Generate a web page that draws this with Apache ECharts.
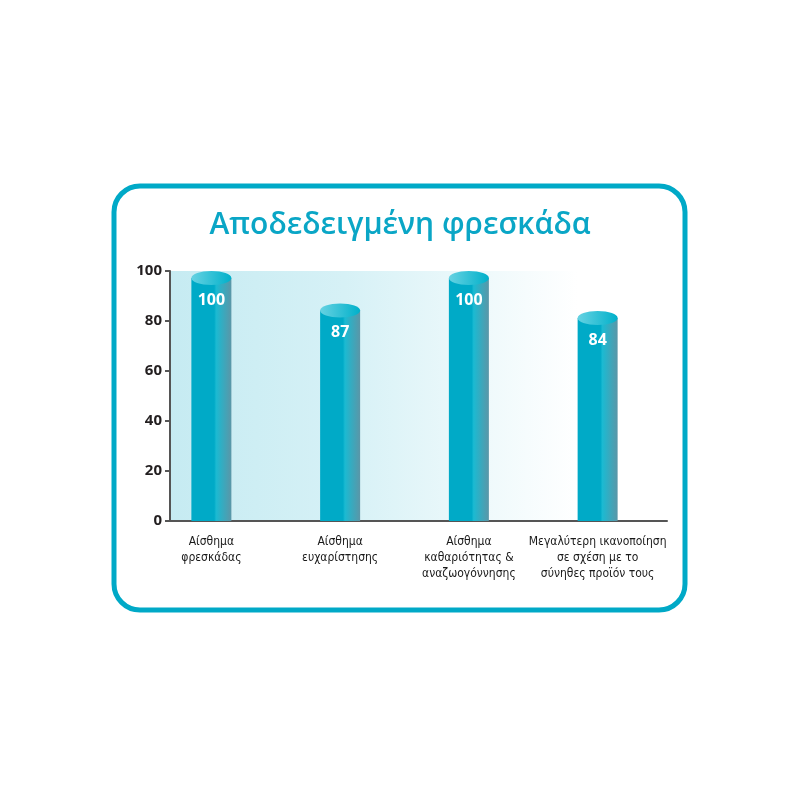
<!DOCTYPE html>
<html><head><meta charset="utf-8">
<script src="https://cdn.jsdelivr.net/npm/echarts@6/dist/echarts.min.js"></script>
<style>html,body{margin:0;padding:0;background:#fff}#c{width:800px;height:800px}</style>
</head><body><div id="c"></div>
<script>
const titleText = 'Αποδεδειγμένη φρεσκάδα';
const categories = ['Αίσθημα\nφρεσκάδας', 'Αίσθημα\nευχαρίστησης', 'Αίσθημα\nκαθαριότητας &\nαναζωογόννησης', 'Μεγαλύτερη ικανοποίηση\nσε σχέση με το\nσύνηθες προϊόν τους'];
const values = [100, 87, 100, 84];
const yTicks = [0, 20, 40, 60, 80, 100];

const chart = echarts.init(document.getElementById('c'));
const BAR_W = 40, RY = 7;
const bodyFill = {type:'linear',x:0,y:0,x2:1,y2:0,colorStops:[
  {offset:0,color:'#00aac7'},{offset:0.57,color:'#00aac7'},{offset:0.62,color:'#1bbad2'},{offset:1,color:'#5b96a7'}]};
const capFill = {type:'linear',x:0,y:0,x2:1,y2:0,colorStops:[
  {offset:0,color:'#66d2e2'},{offset:1,color:'#00b0ca'}]};

chart.setOption({
  backgroundColor:'#fff',
  animation:false,
  title:{text:titleText,left:'center',top:205,textStyle:{fontFamily:'Open Sans',fontSize:30,fontWeight:600,color:'#0aa6c6'}},
  graphic:[{type:'rect',shape:{x:114,y:186,width:571,height:424,r:26},style:{fill:'none',stroke:'#00a9c7',lineWidth:5}}],
  grid:[
    {left:170,right:133,top:271,bottom:279,show:true,borderWidth:0,
     backgroundColor:{type:'linear',x:0,y:0,x2:1,y2:0,colorStops:[{offset:0,color:'#c6ebf2'},{offset:0.35,color:'#d6f1f6'},{offset:0.82,color:'#ffffff'},{offset:1,color:'#ffffff'}]}},
    {left:147,right:138,top:271,bottom:279}
  ],
  xAxis:[
    {gridIndex:0,type:'value',min:0,max:1,axisLine:{show:true,lineStyle:{color:'#555',width:2}},axisTick:{show:false},axisLabel:{show:false},splitLine:{show:false}},
    {gridIndex:1,type:'category',data:categories,axisLine:{show:false},axisTick:{show:false},
     axisLabel:{margin:13,interval:0,fontFamily:'"Liberation Sans Narrow","DejaVu Sans Condensed","Roboto Condensed",Roboto,sans-serif',fontSize:12,lineHeight:16,color:'#1a1a1a',verticalAlign:'top'}}
  ],
  yAxis:[
    {gridIndex:0,type:'value',min:0,max:100,interval:20,
     axisLine:{show:true,lineStyle:{color:'#555',width:2}},
     axisTick:{show:true,length:5,lineStyle:{color:'#555',width:2}},
     axisLabel:{margin:8,fontFamily:'Open Sans',fontWeight:'bold',fontSize:15,color:'#231f20',
       formatter:function(v){return yTicks.indexOf(v)>=0?String(v):'';}},
     splitLine:{show:false}},
    {gridIndex:1,type:'value',min:0,max:100,show:false}
  ],
  series:[{
    type:'custom',xAxisIndex:1,yAxisIndex:1,data:values,
    renderItem:function(params,api){
      const i=api.value(0), v=api.value(1);
      const top=api.coord([i,v]), base=api.coord([i,0]);
      const cx=top[0], y=top[1];
      return {type:'group',children:[
        {type:'rect',shape:{x:cx-BAR_W/2,y:y+RY,width:BAR_W,height:base[1]-y-RY},style:{fill:bodyFill}},
        {type:'ellipse',shape:{cx:cx,cy:y+RY,rx:BAR_W/2,ry:RY},style:{fill:capFill}},
        {type:'text',style:{text:String(v),x:cx,y:y+29,align:'center',verticalAlign:'middle',
          fill:'#fff',font:'bold 16px "Open Sans"'}}
      ]};
    }
  }]
});
</script></body></html>
